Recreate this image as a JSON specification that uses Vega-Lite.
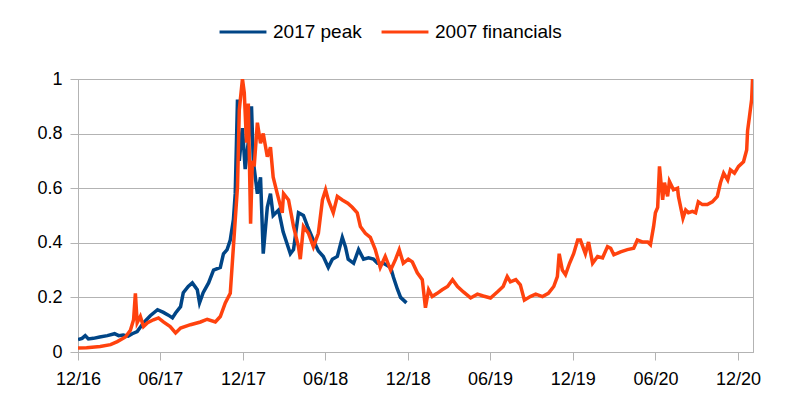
{
  "$schema": "https://vega.github.io/schema/vega-lite/v6.json",
  "width": 675,
  "height": 273,
  "autosize": {"type": "none"},
  "padding": {"left": 78, "top": 79, "right": 47, "bottom": 66},
  "background": "white",
  "config": {
    "font": "Liberation Sans",
    "view": {"stroke": "#b3b3b3", "strokeWidth": 1},
    "axis": {"labelFont": "Liberation Sans", "labelColor": "#000000", "domainColor": "#b3b3b3", "tickColor": "#b3b3b3", "gridColor": "#b3b3b3", "labelFontSize": 18}
  },
  "data": {
    "values": [
      {"date": "2016-12-01", "series": "2017 peak", "value": 0.045},
      {"date": "2016-12-10", "series": "2017 peak", "value": 0.05},
      {"date": "2016-12-17", "series": "2017 peak", "value": 0.06},
      {"date": "2016-12-24", "series": "2017 peak", "value": 0.048},
      {"date": "2017-01-04", "series": "2017 peak", "value": 0.05},
      {"date": "2017-01-18", "series": "2017 peak", "value": 0.055},
      {"date": "2017-02-04", "series": "2017 peak", "value": 0.06},
      {"date": "2017-02-20", "series": "2017 peak", "value": 0.067},
      {"date": "2017-03-01", "series": "2017 peak", "value": 0.06},
      {"date": "2017-03-11", "series": "2017 peak", "value": 0.062},
      {"date": "2017-03-22", "series": "2017 peak", "value": 0.058},
      {"date": "2017-03-31", "series": "2017 peak", "value": 0.067},
      {"date": "2017-04-11", "series": "2017 peak", "value": 0.075},
      {"date": "2017-04-25", "series": "2017 peak", "value": 0.107},
      {"date": "2017-05-10", "series": "2017 peak", "value": 0.133},
      {"date": "2017-05-26", "series": "2017 peak", "value": 0.155},
      {"date": "2017-06-08", "series": "2017 peak", "value": 0.145},
      {"date": "2017-06-19", "series": "2017 peak", "value": 0.135},
      {"date": "2017-06-28", "series": "2017 peak", "value": 0.125},
      {"date": "2017-07-05", "series": "2017 peak", "value": 0.143},
      {"date": "2017-07-16", "series": "2017 peak", "value": 0.166},
      {"date": "2017-07-22", "series": "2017 peak", "value": 0.217},
      {"date": "2017-08-02", "series": "2017 peak", "value": 0.24},
      {"date": "2017-08-11", "series": "2017 peak", "value": 0.253},
      {"date": "2017-08-22", "series": "2017 peak", "value": 0.228},
      {"date": "2017-08-27", "series": "2017 peak", "value": 0.18},
      {"date": "2017-09-04", "series": "2017 peak", "value": 0.217},
      {"date": "2017-09-16", "series": "2017 peak", "value": 0.253},
      {"date": "2017-09-27", "series": "2017 peak", "value": 0.30},
      {"date": "2017-10-12", "series": "2017 peak", "value": 0.31},
      {"date": "2017-10-19", "series": "2017 peak", "value": 0.36},
      {"date": "2017-10-27", "series": "2017 peak", "value": 0.375},
      {"date": "2017-11-03", "series": "2017 peak", "value": 0.41},
      {"date": "2017-11-10", "series": "2017 peak", "value": 0.485},
      {"date": "2017-11-14", "series": "2017 peak", "value": 0.58},
      {"date": "2017-11-19", "series": "2017 peak", "value": 0.925},
      {"date": "2017-11-23", "series": "2017 peak", "value": 0.70},
      {"date": "2017-11-30", "series": "2017 peak", "value": 0.82},
      {"date": "2017-12-06", "series": "2017 peak", "value": 0.67},
      {"date": "2017-12-13", "series": "2017 peak", "value": 0.77},
      {"date": "2017-12-20", "series": "2017 peak", "value": 0.90},
      {"date": "2017-12-24", "series": "2017 peak", "value": 0.70},
      {"date": "2018-01-02", "series": "2017 peak", "value": 0.58},
      {"date": "2018-01-09", "series": "2017 peak", "value": 0.64},
      {"date": "2018-01-15", "series": "2017 peak", "value": 0.36},
      {"date": "2018-01-24", "series": "2017 peak", "value": 0.53},
      {"date": "2018-01-31", "series": "2017 peak", "value": 0.58},
      {"date": "2018-02-06", "series": "2017 peak", "value": 0.50},
      {"date": "2018-02-18", "series": "2017 peak", "value": 0.52},
      {"date": "2018-02-28", "series": "2017 peak", "value": 0.44},
      {"date": "2018-03-16", "series": "2017 peak", "value": 0.36},
      {"date": "2018-03-23", "series": "2017 peak", "value": 0.375},
      {"date": "2018-04-03", "series": "2017 peak", "value": 0.51},
      {"date": "2018-04-14", "series": "2017 peak", "value": 0.50},
      {"date": "2018-04-23", "series": "2017 peak", "value": 0.46},
      {"date": "2018-05-06", "series": "2017 peak", "value": 0.41},
      {"date": "2018-05-17", "series": "2017 peak", "value": 0.37},
      {"date": "2018-05-28", "series": "2017 peak", "value": 0.35},
      {"date": "2018-06-08", "series": "2017 peak", "value": 0.31},
      {"date": "2018-06-17", "series": "2017 peak", "value": 0.34},
      {"date": "2018-06-28", "series": "2017 peak", "value": 0.35},
      {"date": "2018-07-09", "series": "2017 peak", "value": 0.42},
      {"date": "2018-07-16", "series": "2017 peak", "value": 0.385},
      {"date": "2018-07-22", "series": "2017 peak", "value": 0.34},
      {"date": "2018-08-03", "series": "2017 peak", "value": 0.325},
      {"date": "2018-08-14", "series": "2017 peak", "value": 0.375},
      {"date": "2018-08-25", "series": "2017 peak", "value": 0.34},
      {"date": "2018-09-05", "series": "2017 peak", "value": 0.345},
      {"date": "2018-09-16", "series": "2017 peak", "value": 0.34},
      {"date": "2018-09-25", "series": "2017 peak", "value": 0.325},
      {"date": "2018-10-08", "series": "2017 peak", "value": 0.325},
      {"date": "2018-10-24", "series": "2017 peak", "value": 0.31},
      {"date": "2018-10-30", "series": "2017 peak", "value": 0.275},
      {"date": "2018-11-08", "series": "2017 peak", "value": 0.23},
      {"date": "2018-11-15", "series": "2017 peak", "value": 0.20},
      {"date": "2018-11-28", "series": "2017 peak", "value": 0.18},
      {"date": "2016-12-01", "series": "2007 financials", "value": 0.015},
      {"date": "2016-12-20", "series": "2007 financials", "value": 0.016},
      {"date": "2017-01-19", "series": "2007 financials", "value": 0.02},
      {"date": "2017-02-11", "series": "2007 financials", "value": 0.027},
      {"date": "2017-02-26", "series": "2007 financials", "value": 0.038},
      {"date": "2017-03-16", "series": "2007 financials", "value": 0.055},
      {"date": "2017-03-27", "series": "2007 financials", "value": 0.08},
      {"date": "2017-04-03", "series": "2007 financials", "value": 0.118},
      {"date": "2017-04-07", "series": "2007 financials", "value": 0.215},
      {"date": "2017-04-11", "series": "2007 financials", "value": 0.107},
      {"date": "2017-04-18", "series": "2007 financials", "value": 0.13},
      {"date": "2017-04-25", "series": "2007 financials", "value": 0.093},
      {"date": "2017-05-04", "series": "2007 financials", "value": 0.107},
      {"date": "2017-05-17", "series": "2007 financials", "value": 0.118},
      {"date": "2017-05-28", "series": "2007 financials", "value": 0.125},
      {"date": "2017-06-08", "series": "2007 financials", "value": 0.11},
      {"date": "2017-06-23", "series": "2007 financials", "value": 0.093},
      {"date": "2017-07-05", "series": "2007 financials", "value": 0.07},
      {"date": "2017-07-16", "series": "2007 financials", "value": 0.088},
      {"date": "2017-08-07", "series": "2007 financials", "value": 0.10},
      {"date": "2017-08-29", "series": "2007 financials", "value": 0.11},
      {"date": "2017-09-13", "series": "2007 financials", "value": 0.12},
      {"date": "2017-10-01", "series": "2007 financials", "value": 0.11},
      {"date": "2017-10-12", "series": "2007 financials", "value": 0.13},
      {"date": "2017-10-23", "series": "2007 financials", "value": 0.18},
      {"date": "2017-11-03", "series": "2007 financials", "value": 0.215},
      {"date": "2017-11-10", "series": "2007 financials", "value": 0.386},
      {"date": "2017-11-19", "series": "2007 financials", "value": 0.605},
      {"date": "2017-11-23", "series": "2007 financials", "value": 0.887},
      {"date": "2017-11-30", "series": "2007 financials", "value": 1.0},
      {"date": "2017-12-04", "series": "2007 financials", "value": 0.95},
      {"date": "2017-12-09", "series": "2007 financials", "value": 0.767},
      {"date": "2017-12-13", "series": "2007 financials", "value": 0.91},
      {"date": "2017-12-18", "series": "2007 financials", "value": 0.47},
      {"date": "2017-12-22", "series": "2007 financials", "value": 0.70},
      {"date": "2017-12-26", "series": "2007 financials", "value": 0.68},
      {"date": "2018-01-02", "series": "2007 financials", "value": 0.84},
      {"date": "2018-01-09", "series": "2007 financials", "value": 0.765},
      {"date": "2018-01-15", "series": "2007 financials", "value": 0.80},
      {"date": "2018-01-24", "series": "2007 financials", "value": 0.715},
      {"date": "2018-01-31", "series": "2007 financials", "value": 0.75},
      {"date": "2018-02-06", "series": "2007 financials", "value": 0.64},
      {"date": "2018-02-15", "series": "2007 financials", "value": 0.58},
      {"date": "2018-02-26", "series": "2007 financials", "value": 0.51},
      {"date": "2018-03-01", "series": "2007 financials", "value": 0.58},
      {"date": "2018-03-12", "series": "2007 financials", "value": 0.557},
      {"date": "2018-03-23", "series": "2007 financials", "value": 0.46},
      {"date": "2018-04-03", "series": "2007 financials", "value": 0.385},
      {"date": "2018-04-07", "series": "2007 financials", "value": 0.34},
      {"date": "2018-04-14", "series": "2007 financials", "value": 0.46},
      {"date": "2018-04-25", "series": "2007 financials", "value": 0.435},
      {"date": "2018-05-06", "series": "2007 financials", "value": 0.385},
      {"date": "2018-05-17", "series": "2007 financials", "value": 0.435},
      {"date": "2018-05-26", "series": "2007 financials", "value": 0.557},
      {"date": "2018-06-02", "series": "2007 financials", "value": 0.594},
      {"date": "2018-06-08", "series": "2007 financials", "value": 0.557},
      {"date": "2018-06-19", "series": "2007 financials", "value": 0.51},
      {"date": "2018-06-28", "series": "2007 financials", "value": 0.57},
      {"date": "2018-07-09", "series": "2007 financials", "value": 0.557},
      {"date": "2018-07-21", "series": "2007 financials", "value": 0.545},
      {"date": "2018-07-31", "series": "2007 financials", "value": 0.53},
      {"date": "2018-08-11", "series": "2007 financials", "value": 0.51},
      {"date": "2018-08-18", "series": "2007 financials", "value": 0.46},
      {"date": "2018-08-29", "series": "2007 financials", "value": 0.435},
      {"date": "2018-09-09", "series": "2007 financials", "value": 0.42},
      {"date": "2018-09-20", "series": "2007 financials", "value": 0.375},
      {"date": "2018-10-01", "series": "2007 financials", "value": 0.31},
      {"date": "2018-10-12", "series": "2007 financials", "value": 0.35},
      {"date": "2018-10-24", "series": "2007 financials", "value": 0.30},
      {"date": "2018-11-04", "series": "2007 financials", "value": 0.34},
      {"date": "2018-11-12", "series": "2007 financials", "value": 0.375},
      {"date": "2018-11-21", "series": "2007 financials", "value": 0.325},
      {"date": "2018-12-02", "series": "2007 financials", "value": 0.34},
      {"date": "2018-12-11", "series": "2007 financials", "value": 0.33},
      {"date": "2018-12-22", "series": "2007 financials", "value": 0.29},
      {"date": "2019-01-02", "series": "2007 financials", "value": 0.265},
      {"date": "2019-01-09", "series": "2007 financials", "value": 0.162},
      {"date": "2019-01-16", "series": "2007 financials", "value": 0.228},
      {"date": "2019-01-24", "series": "2007 financials", "value": 0.203},
      {"date": "2019-02-04", "series": "2007 financials", "value": 0.215},
      {"date": "2019-02-15", "series": "2007 financials", "value": 0.228},
      {"date": "2019-02-27", "series": "2007 financials", "value": 0.24},
      {"date": "2019-03-10", "series": "2007 financials", "value": 0.265},
      {"date": "2019-03-21", "series": "2007 financials", "value": 0.24},
      {"date": "2019-04-03", "series": "2007 financials", "value": 0.22},
      {"date": "2019-04-19", "series": "2007 financials", "value": 0.198},
      {"date": "2019-05-04", "series": "2007 financials", "value": 0.212},
      {"date": "2019-05-17", "series": "2007 financials", "value": 0.205},
      {"date": "2019-06-02", "series": "2007 financials", "value": 0.198},
      {"date": "2019-06-17", "series": "2007 financials", "value": 0.22},
      {"date": "2019-06-30", "series": "2007 financials", "value": 0.24},
      {"date": "2019-07-09", "series": "2007 financials", "value": 0.276},
      {"date": "2019-07-16", "series": "2007 financials", "value": 0.257},
      {"date": "2019-07-28", "series": "2007 financials", "value": 0.265},
      {"date": "2019-08-07", "series": "2007 financials", "value": 0.246},
      {"date": "2019-08-16", "series": "2007 financials", "value": 0.19},
      {"date": "2019-08-29", "series": "2007 financials", "value": 0.203},
      {"date": "2019-09-10", "series": "2007 financials", "value": 0.212},
      {"date": "2019-09-25", "series": "2007 financials", "value": 0.203},
      {"date": "2019-10-08", "series": "2007 financials", "value": 0.215},
      {"date": "2019-10-20", "series": "2007 financials", "value": 0.24},
      {"date": "2019-10-28", "series": "2007 financials", "value": 0.276},
      {"date": "2019-11-01", "series": "2007 financials", "value": 0.36},
      {"date": "2019-11-08", "series": "2007 financials", "value": 0.30},
      {"date": "2019-11-15", "series": "2007 financials", "value": 0.283},
      {"date": "2019-11-24", "series": "2007 financials", "value": 0.325},
      {"date": "2019-12-03", "series": "2007 financials", "value": 0.36},
      {"date": "2019-12-12", "series": "2007 financials", "value": 0.41},
      {"date": "2019-12-18", "series": "2007 financials", "value": 0.41},
      {"date": "2019-12-29", "series": "2007 financials", "value": 0.36},
      {"date": "2020-01-05", "series": "2007 financials", "value": 0.403},
      {"date": "2020-01-14", "series": "2007 financials", "value": 0.325},
      {"date": "2020-01-25", "series": "2007 financials", "value": 0.35},
      {"date": "2020-02-05", "series": "2007 financials", "value": 0.345},
      {"date": "2020-02-16", "series": "2007 financials", "value": 0.386},
      {"date": "2020-02-23", "series": "2007 financials", "value": 0.38},
      {"date": "2020-03-01", "series": "2007 financials", "value": 0.356},
      {"date": "2020-03-16", "series": "2007 financials", "value": 0.367},
      {"date": "2020-03-31", "series": "2007 financials", "value": 0.375},
      {"date": "2020-04-14", "series": "2007 financials", "value": 0.38},
      {"date": "2020-04-22", "series": "2007 financials", "value": 0.41},
      {"date": "2020-05-03", "series": "2007 financials", "value": 0.403},
      {"date": "2020-05-15", "series": "2007 financials", "value": 0.403},
      {"date": "2020-05-21", "series": "2007 financials", "value": 0.393},
      {"date": "2020-05-28", "series": "2007 financials", "value": 0.46},
      {"date": "2020-06-01", "series": "2007 financials", "value": 0.51},
      {"date": "2020-06-06", "series": "2007 financials", "value": 0.53},
      {"date": "2020-06-10", "series": "2007 financials", "value": 0.68},
      {"date": "2020-06-17", "series": "2007 financials", "value": 0.557},
      {"date": "2020-06-21", "series": "2007 financials", "value": 0.62},
      {"date": "2020-06-28", "series": "2007 financials", "value": 0.57},
      {"date": "2020-07-02", "series": "2007 financials", "value": 0.625},
      {"date": "2020-07-11", "series": "2007 financials", "value": 0.594},
      {"date": "2020-07-20", "series": "2007 financials", "value": 0.60},
      {"date": "2020-07-22", "series": "2007 financials", "value": 0.57},
      {"date": "2020-08-01", "series": "2007 financials", "value": 0.49},
      {"date": "2020-08-07", "series": "2007 financials", "value": 0.52},
      {"date": "2020-08-13", "series": "2007 financials", "value": 0.51},
      {"date": "2020-08-22", "series": "2007 financials", "value": 0.515},
      {"date": "2020-08-29", "series": "2007 financials", "value": 0.51},
      {"date": "2020-09-04", "series": "2007 financials", "value": 0.55},
      {"date": "2020-09-13", "series": "2007 financials", "value": 0.54},
      {"date": "2020-09-24", "series": "2007 financials", "value": 0.54},
      {"date": "2020-10-05", "series": "2007 financials", "value": 0.55},
      {"date": "2020-10-16", "series": "2007 financials", "value": 0.57},
      {"date": "2020-10-23", "series": "2007 financials", "value": 0.62},
      {"date": "2020-10-30", "series": "2007 financials", "value": 0.655},
      {"date": "2020-11-08", "series": "2007 financials", "value": 0.63},
      {"date": "2020-11-14", "series": "2007 financials", "value": 0.667},
      {"date": "2020-11-23", "series": "2007 financials", "value": 0.655},
      {"date": "2020-12-02", "series": "2007 financials", "value": 0.68},
      {"date": "2020-12-13", "series": "2007 financials", "value": 0.697},
      {"date": "2020-12-20", "series": "2007 financials", "value": 0.74},
      {"date": "2020-12-22", "series": "2007 financials", "value": 0.81},
      {"date": "2020-12-26", "series": "2007 financials", "value": 0.86},
      {"date": "2020-12-31", "series": "2007 financials", "value": 0.925},
      {"date": "2021-01-02", "series": "2007 financials", "value": 1.0}
    ]
  },
  "encoding": {
    "x": {
      "field": "date",
      "type": "temporal",
      "title": null,
      "scale": {"type": "utc", "domain": [{"year": 2016, "month": 12, "date": 1, "utc": true}, {"year": 2021, "month": 1, "date": 3, "utc": true}], "nice": false},
      "axis": {
        "values": [
          {"year": 2016, "month": 12, "date": 1, "utc": true},
          {"year": 2017, "month": 6, "date": 1, "utc": true},
          {"year": 2017, "month": 12, "date": 1, "utc": true},
          {"year": 2018, "month": 6, "date": 1, "utc": true},
          {"year": 2018, "month": 12, "date": 1, "utc": true},
          {"year": 2019, "month": 6, "date": 1, "utc": true},
          {"year": 2019, "month": 12, "date": 1, "utc": true},
          {"year": 2020, "month": 6, "date": 1, "utc": true},
          {"year": 2020, "month": 12, "date": 1, "utc": true}
        ],
        "labelExpr": "utcFormat(datum.value, '%m/%y')",
        "grid": false,
        "tickSize": 8,
        "labelPadding": 10,
        "labelFlush": false,
        "labelOverlap": false
      }
    },
    "y": {
      "field": "value",
      "type": "quantitative",
      "title": null,
      "scale": {"domain": [0, 1], "nice": false},
      "axis": {"values": [0, 0.2, 0.4, 0.6, 0.8, 1], "format": "~g", "tickSize": 8, "labelPadding": 8, "grid": true}
    },
    "color": {
      "field": "series",
      "type": "nominal",
      "scale": {"domain": ["2017 peak", "2007 financials"], "range": ["#004586", "#ff420e"]},
      "legend": {
        "title": null,
        "orient": "none",
        "legendX": 140,
        "legendY": -72,
        "direction": "horizontal",
        "symbolType": "stroke",
        "symbolSize": 2200,
        "symbolStrokeWidth": 3,
        "labelFontSize": 19,
        "labelFont": "Liberation Sans",
        "labelColor": "#000000",
        "labelOffset": 5,
        "columnPadding": 13,
        "padding": 0
      }
    }
  },
  "layer": [
    {
      "transform": [{"filter": "datum.series === '2017 peak'"}],
      "mark": {"type": "line", "strokeWidth": 3.5, "clip": true}
    },
    {
      "transform": [{"filter": "datum.series === '2007 financials'"}],
      "mark": {"type": "line", "strokeWidth": 3.5, "clip": true}
    }
  ]
}
